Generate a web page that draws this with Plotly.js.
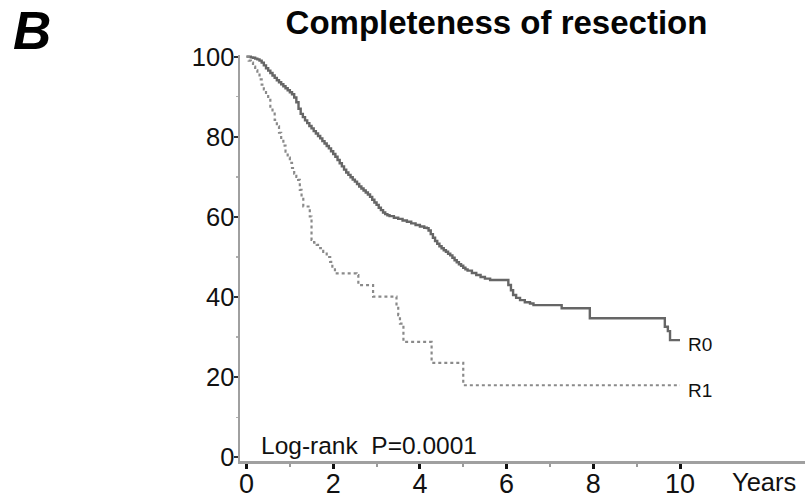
<!DOCTYPE html>
<html>
<head>
<meta charset="utf-8">
<script src="https://cdn.plot.ly/plotly-3.0.1.min.js"></script>
<style>
  html, body { margin: 0; padding: 0; background: #ffffff; }
  #chart { width: 805px; height: 498px; }
</style>
</head>
<body>
<div id="chart"></div>
<script>
// ---- data (Kaplan-Meier, % surviving vs years) ----
const r0Years = [0, 0.05, 0.1, 0.15, 0.2, 0.25, 0.3, 0.35, 0.4, 0.45, 0.5, 0.55, 0.6, 0.65, 0.7, 0.75, 0.8, 0.85, 0.9, 0.95,
  1.0, 1.05, 1.1, 1.15, 1.2, 1.25, 1.3, 1.35, 1.4, 1.45, 1.5, 1.55, 1.6, 1.65, 1.7, 1.75, 1.8, 1.85, 1.9, 1.95,
  2.0, 2.05, 2.1, 2.15, 2.2, 2.25, 2.3, 2.35, 2.4, 2.45, 2.5, 2.55, 2.6, 2.65, 2.7, 2.75, 2.8, 2.85, 2.9, 2.95,
  3.0, 3.05, 3.1, 3.15, 3.2, 3.25, 3.3, 3.4, 3.5, 3.6, 3.7, 3.8, 3.9, 4.0, 4.1, 4.16, 4.2, 4.25, 4.3, 4.35,
  4.4, 4.45, 4.5, 4.55, 4.6, 4.65, 4.7, 4.75, 4.8, 4.85, 4.9, 4.95, 5.0, 5.05, 5.1, 5.2, 5.3, 5.4, 5.5, 5.62,
  6.04, 6.1, 6.15, 6.22, 6.31, 6.42, 6.54, 6.62, 7.27, 7.92, 9.65, 9.72, 9.77, 10.0];
const r0Surv = [100, 100, 99.8, 99.7, 99.5, 99.3, 99, 98.5, 97.8, 97.1, 96.5, 95.9, 95.3, 94.7, 94.1, 93.6, 93.1, 92.6, 92.1, 91.6,
  91.1, 90.6, 89.8, 88.6, 87, 85.7, 84.9, 84.1, 83.4, 82.7, 82.1, 81.4, 80.8, 80.2, 79.6, 78.9, 78.3, 77.7, 77.1, 76.4,
  75.7, 75, 74.2, 73.4, 72.6, 71.8, 71.1, 70.5, 69.9, 69.3, 68.8, 68.2, 67.6, 67.1, 66.6, 66.1, 65.6, 65, 64.3, 63.6,
  63, 62.3, 61.7, 61.1, 60.7, 60.4, 60.2, 59.8, 59.5, 59.1, 58.8, 58.4, 58, 57.6, 57.3, 57.2, 56.6, 55.7, 54.8, 54,
  53.3, 52.7, 52.2, 51.7, 51.3, 50.8, 50.4, 49.8, 49.2, 48.7, 48.2, 47.8, 47.3, 46.9, 46.6, 46, 45.5, 45, 44.6, 44.25,
  43, 41.7, 40.5, 39.8, 39.25, 38.7, 38.4, 38, 37.2, 34.7, 32.6, 31.5, 29.25, 29.25];

const r1Years = [0, 0.05, 0.1, 0.15, 0.2, 0.25, 0.3, 0.35, 0.4, 0.45, 0.5, 0.55, 0.6, 0.65, 0.7, 0.75, 0.8, 0.85, 0.9, 0.95,
  1.0, 1.05, 1.1, 1.15, 1.19, 1.23, 1.27, 1.31, 1.43, 1.46, 1.5, 1.56, 1.62, 1.7, 1.77, 1.85, 1.93, 1.98, 2.04,
  2.54, 2.58, 2.92, 3.46, 3.5, 3.54, 3.62, 4.27, 5.0, 10.0];
const r1Surv = [100, 99, 98.5, 97.5, 96.6, 95.5, 94.3, 93, 91.8, 90.6, 89.2, 87.5, 85.8, 84.2, 82.6, 81, 79.4, 77.8, 76.3, 74.8,
  73.5, 72.2, 70.8, 70, 69.25, 66.75, 64.5, 62.6, 62.2, 60.1, 54.25, 53.6, 53, 52.2, 51.3, 50, 48.8, 47.3, 45.9,
  45.5, 43, 40.1, 37.6, 35.5, 33.4, 28.8, 23.6, 18, 18];

const seriesNames = ["R0", "R1"];
const xTickVals = [0, 2, 4, 6, 8, 10];
const xMinorVals = [1, 3, 5, 7, 9];
const yTickVals = [0, 20, 40, 60, 80, 100];
const yMinorVals = [10, 30, 50, 70, 90];
const titleText = "Completeness of resection";
const panelLetter = "B";
const xAxisLabel = "Years";
const statText = "Log-rank  P=0.0001";

// ---- geometry helpers (pixel -> paper) ----
const W = 805, H = 498;
const plotLeft = 240, plotRight = 805, plotTop = 55.4, plotBottom = 460.6;
const pw = plotRight - plotLeft, ph = plotBottom - plotTop;
const px = x => (x - plotLeft) / pw;
const py = y => (plotBottom - y) / ph;

const FONT = "Liberation Sans, Arial, sans-serif";

const traces = [
  {
    x: r0Years, y: r0Surv, name: seriesNames[0], type: "scatter", mode: "lines",
    line: { shape: "hv", color: "#666666", width: 2.4 }, cliponaxis: false
  },
  {
    x: r1Years, y: r1Surv, name: seriesNames[1], type: "scatter", mode: "lines",
    line: { shape: "hv", color: "#8a8a8a", width: 2.2, dash: "dot" }, cliponaxis: false
  }
];

const layout = {
  width: W, height: H,
  margin: { l: plotLeft, r: W - plotRight, t: plotTop, b: H - plotBottom, pad: 0 },
  paper_bgcolor: "#ffffff", plot_bgcolor: "#ffffff",
  showlegend: false,
  font: { family: FONT, color: "#111111" },
  title: {
    text: titleText,
    font: { family: FONT, size: 33, color: "#050505", weight: "bold" },
    x: 496.5 / W, xanchor: "center", xref: "container",
    y: 1 - 22 / H, yanchor: "middle", yref: "container"
  },
  xaxis: {
    range: [-0.15, (plotRight - 246.5) / 43.35],
    tickmode: "array", tickvals: xTickVals, ticktext: xTickVals.map(String),
    ticks: "outside", ticklen: 5, tickwidth: 3, tickcolor: "#111111",
    minor: { tickmode: "array", tickvals: xMinorVals, ticks: "outside", ticklen: 3, tickwidth: 2, tickcolor: "#9a9a9a", showgrid: false },
    showline: true, linecolor: "#a0a0a0", linewidth: 2.5,
    showgrid: false, zeroline: false,
    tickfont: { family: FONT, size: 27, color: "#111111" },
    ticklabelstandoff: -8,
    fixedrange: true
  },
  yaxis: {
    range: [-0.9, 100.4],
    tickmode: "array", tickvals: yTickVals, ticktext: yTickVals.map(String),
    ticks: "outside", ticklen: 4, tickwidth: 2, tickcolor: "#333333",
    minor: { tickmode: "array", tickvals: yMinorVals, ticks: "outside", ticklen: 2, tickwidth: 1.5, tickcolor: "#b0b0b0", showgrid: false },
    showline: true, linecolor: "#a0a0a0", linewidth: 2.5,
    showgrid: false, zeroline: false,
    tickfont: { family: FONT, size: 25.5, color: "#111111" },
    ticklabelstandoff: -6,
    fixedrange: true
  },
  annotations: [
    { text: panelLetter, xref: "paper", yref: "paper", x: px(11), y: py(31), xanchor: "left", yanchor: "middle",
      showarrow: false, font: { family: FONT, size: 53, color: "#000000", weight: "bold", style: "italic" } },
    { text: xAxisLabel, xref: "paper", yref: "paper", x: px(730), y: py(482), xanchor: "left", yanchor: "middle",
      showarrow: false, font: { family: FONT, size: 25.5, color: "#111111" } },
    { text: statText, xref: "paper", yref: "paper", x: px(259), y: py(445), xanchor: "left", yanchor: "middle",
      showarrow: false, font: { family: FONT, size: 24.5, color: "#111111" } },
    { text: seriesNames[0], xref: "x", yref: "y", x: r0Years[r0Years.length - 1], y: r0Surv[r0Surv.length - 1],
      xanchor: "left", yanchor: "middle", xshift: 6, yshift: -4, showarrow: false,
      font: { family: FONT, size: 19, color: "#111111" } },
    { text: seriesNames[1], xref: "x", yref: "y", x: r1Years[r1Years.length - 1], y: r1Surv[r1Surv.length - 1],
      xanchor: "left", yanchor: "middle", xshift: 6, yshift: -5, showarrow: false,
      font: { family: FONT, size: 19, color: "#111111" } }
  ]
};

Plotly.newPlot("chart", traces, layout, { displayModeBar: false, staticPlot: true });
</script>
</body>
</html>
